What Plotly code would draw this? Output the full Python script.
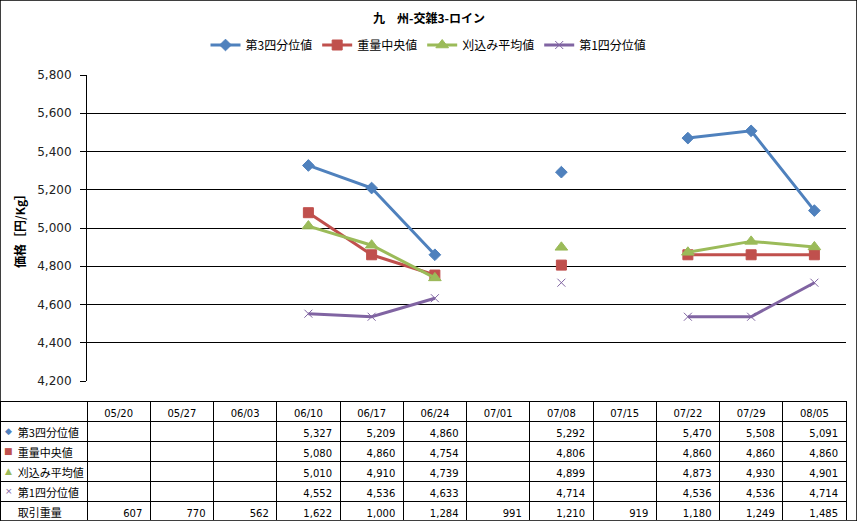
import plotly.graph_objects as go

# Weekly dates (x categories)
dates = ["05/20", "05/27", "06/03", "06/10", "06/17", "06/24",
         "07/01", "07/08", "07/15", "07/22", "07/29", "08/05"]

# Price series (円/Kg); None = no data that week
q3 = [None, None, None, 5327, 5209, 4860, None, 5292, None, 5470, 5508, 5091]
median = [None, None, None, 5080, 4860, 4754, None, 4806, None, 4860, 4860, 4860]
trim_avg = [None, None, None, 5010, 4910, 4739, None, 4899, None, 4873, 4930, 4901]
q1 = [None, None, None, 4552, 4536, 4633, None, 4714, None, 4536, 4536, 4714]

# Traded weight
volume = [607, 770, 562, 1622, 1000, 1284, 991, 1210, 919, 1180, 1249, 1485]

names = ["第3四分位値", "重量中央値", "刈込み平均値", "第1四分位値"]
colors = ["#4F81BD", "#C0504D", "#9BBB59", "#8064A2"]
symbols = ["diamond", "square", "triangle-up", "x-thin"]
sizes = [9, 10, 11, 8]
series = [q3, median, trim_avg, q1]
glyphs = ["◆", "■", "▲", "×"]

W, H = 857, 521
jp_font = "Noto Sans CJK JP"
num_font = "DejaVu Sans"

fig = go.Figure()

for name, vals, col, sym, sz in zip(names, series, colors, symbols, sizes):
    fig.add_trace(go.Scatter(
        x=dates, y=vals, name=name, mode="lines+markers",
        connectgaps=False,
        line=dict(color=col, width=3),
        marker=dict(symbol=sym, size=sz, color=col,
                    line=dict(color=col, width=1)),
        xaxis="x", yaxis="y"))

# Data table under the chart
def fmt(v):
    return "" if v is None else f"{v:,}"

pad = "\u00a0" * 4
label_col = [pad + n for n in names] + [pad + "取引重量"]
cols = [label_col]
for i in range(len(dates)):
    cols.append([fmt(s[i]) for s in series] + [fmt(volume[i])])

plot_left = 87
plot_right = 846
col_w = (plot_right - plot_left) / len(dates)
table_top = 401
row_h = 20

fig.add_trace(go.Table(
    domain=dict(x=[0, plot_right / W], y=[0, 1 - table_top / H]),
    columnwidth=[plot_left] + [col_w] * len(dates),
    header=dict(values=[""] + dates, height=row_h,
                fill_color="white", line=dict(color="black", width=1),
                align="center",
                font=dict(family=num_font, size=10, color="black")),
    cells=dict(values=cols, height=row_h,
               fill_color="white", line=dict(color="black", width=1),
               align=["left"] + ["right"] * len(dates),
               font=dict(family=[jp_font] + [num_font] * len(dates),
                         size=[11] + [10] * len(dates), color="black")),
))

# coloured series keys in the table's first column
annotations = []
for k, (g, c) in enumerate(zip(glyphs, colors)):
    annotations.append(dict(
        text=g, xref="paper", yref="paper",
        x=8.5 / W, y=1 - (table_top + row_h * (k + 1.5)) / H,
        xanchor="center", yanchor="middle", showarrow=False,
        font=dict(family=num_font, size=9, color=c)))

annotations += [
    dict(text="<b>九　州-交雑3-ロイン</b>", xref="paper", yref="paper",
         x=0.5, y=1 - 17 / H, xanchor="center", yanchor="middle",
         showarrow=False,
         font=dict(family=jp_font, size=12, color="black")),
    dict(text="<b>価格［円/Kg］</b>", xref="paper", yref="paper",
         x=20 / W, y=1 - 228 / H, xanchor="center", yanchor="middle",
         textangle=-90, showarrow=False,
         font=dict(family=jp_font, size=12, color="black")),
]

fig.update_layout(
    width=W, height=H,
    margin=dict(l=0, r=0, t=0, b=0, pad=0),
    paper_bgcolor="white", plot_bgcolor="white",
    showlegend=True,
    legend=dict(orientation="h", x=0.5, xanchor="center",
                y=1 - 45 / H, yanchor="middle",
                font=dict(family=jp_font, size=12, color="black"),
                itemwidth=30, bgcolor="rgba(0,0,0,0)"),
    xaxis=dict(domain=[plot_left / W, plot_right / W],
               type="category", range=[-0.5, 11.5],
               showticklabels=False, showgrid=False, zeroline=False,
               showline=False, ticks=""),
    yaxis=dict(domain=[1 - 381 / H, 1 - 75 / H],
               range=[4200, 5800], dtick=200, tickformat=",",
               showgrid=True, gridcolor="black", gridwidth=1,
               showline=True, linecolor="black", linewidth=1,
               ticks="outside", ticklen=6, tickcolor="black",
               ticklabelstandoff=6,
               zeroline=False, automargin=False,
               tickfont=dict(family=num_font, size=12, color="#222222")),
    annotations=annotations,
    shapes=[
        dict(type="rect", xref="paper", yref="paper",
             x0=0, x1=1, y0=0, y1=1,
             line=dict(color="black", width=1.5)),
    ],
)

# the page body has a default 8px margin; drop it so the figure fills the window
fig.write_html("out.html", config={"displayModeBar": False},
               post_script="document.body.style.margin='0';")
